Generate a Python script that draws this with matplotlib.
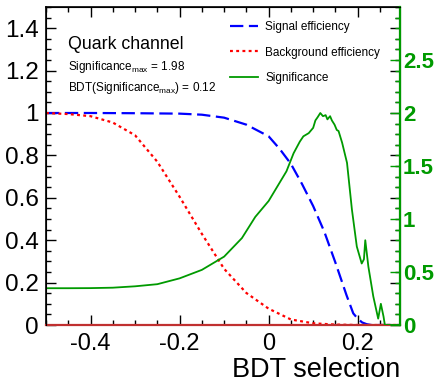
import matplotlib
matplotlib.use("Agg")
import matplotlib.pyplot as plt
from matplotlib.ticker import MultipleLocator, FixedLocator, FormatStrFormatter

plt.rcParams['font.family'] = ['Liberation Sans', 'DejaVu Sans']
plt.rcParams['axes.unicode_minus'] = False

# signal efficiency (blue dashed)
sig_x = [-0.5, -0.4, -0.3, -0.2, -0.15, -0.1, -0.05, 0.0, 0.025, 0.05, 0.075, 0.1,
         0.125, 0.15, 0.175, 0.19, 0.2, 0.21, 0.22, 0.23, 0.3]
sig_eff = [1.0, 1.0, 0.999, 0.997, 0.992, 0.978, 0.945, 0.89, 0.83, 0.76, 0.665, 0.561,
           0.44, 0.294, 0.14, 0.055, 0.03, 0.012, 0.004, 0.0, 0.0]

# background efficiency (red dotted)
bkg_x = [-0.5, -0.45, -0.4, -0.35, -0.3, -0.25, -0.2, -0.15, -0.1, -0.05, 0.0,
         0.05, 0.1, 0.15, 0.2, 0.3]
bkg_eff = [1.0, 0.995, 0.985, 0.955, 0.895, 0.77, 0.605, 0.43, 0.265, 0.151, 0.077,
           0.026, 0.008, 0.002, 0.0, 0.0]

# significance (green, right axis)
sgf_x = [-0.5, -0.45, -0.4, -0.35, -0.3, -0.25, -0.2, -0.15, -0.1, -0.06, -0.03, 0.0,
         0.02, 0.04, 0.056, 0.07, 0.078, 0.09, 0.1, 0.105, 0.11, 0.116, 0.122, 0.128,
         0.132, 0.138, 0.142, 0.148, 0.153, 0.157, 0.165, 0.176, 0.187, 0.198, 0.209,
         0.214, 0.217, 0.224, 0.235, 0.246, 0.252, 0.258, 0.261, 0.3]
sgf = [0.347, 0.347, 0.348, 0.352, 0.365, 0.385, 0.44, 0.52, 0.645, 0.82, 1.02, 1.17,
       1.31, 1.45, 1.62, 1.73, 1.78, 1.81, 1.86, 1.93, 1.96, 2.0, 1.97, 1.98,
       1.94, 1.97, 1.93, 1.89, 1.84, 1.83, 1.72, 1.53, 1.09, 0.74, 0.58,
       0.62, 0.80, 0.55, 0.27, 0.06, 0.20, 0.08, 0.0, 0.0]
sgf_ticks = [0, 0.5, 1, 1.5, 2, 2.5]

green = '#009a00'

fig = plt.figure(figsize=(4.36, 3.86), dpi=100)
ax = fig.add_axes([46/436, 1-325/386, 354/436, 318/386])
ax2 = ax.twinx()

l1, = ax.plot(sig_x, sig_eff, color='#0000ff', lw=1.6, linestyle=(0, (6, 2.5)),
              label='Signal efficiency')
l2, = ax.plot(bkg_x, bkg_eff, color='#ff0000', lw=1.6, linestyle=(0, (1.3, 1.5)),
              label='Background efficiency')
l3, = ax2.plot(sgf_x, sgf, color=green, lw=1.3, label='Significance')

ax.set_xlim(-0.5, 0.295)
ax.set_ylim(0, 1.5)
ax2.set_ylim(0, 3.0)

ax.xaxis.set_major_locator(MultipleLocator(0.2))
ax.xaxis.set_minor_locator(MultipleLocator(0.05))
ax.yaxis.set_major_locator(MultipleLocator(0.2))
ax.yaxis.set_minor_locator(MultipleLocator(0.05))
ax.xaxis.set_major_formatter(FormatStrFormatter('%g'))
ax.yaxis.set_major_formatter(FormatStrFormatter('%g'))
ax2.yaxis.set_major_locator(FixedLocator(sgf_ticks))
ax2.yaxis.set_minor_locator(MultipleLocator(0.1))
ax2.yaxis.set_major_formatter(FormatStrFormatter('%g'))

ax.tick_params(which='both', direction='in', top=True, right=True, colors='black')
ax.tick_params(which='major', length=7, width=1)
ax.tick_params(which='minor', length=3.5, width=1)
ax.tick_params(axis='y', labelsize=17.5, pad=5)
ax.tick_params(axis='x', labelsize=17, pad=6)

ax2.tick_params(which='both', direction='in', colors=green)
ax2.tick_params(which='major', length=7, width=1)
ax2.tick_params(which='minor', length=3.5, width=1)
ax2.tick_params(axis='y', labelsize=16, pad=2)
for lab in ax2.get_yticklabels():
    lab.set_fontweight('bold')

for sp in ['left', 'top']:
    ax.spines[sp].set_linewidth(1.2)
ax.spines['bottom'].set_color('#c03030')
ax.spines['bottom'].set_linewidth(1.6)
ax2.spines['right'].set_color(green)
ax2.spines['right'].set_linewidth(1.6)
ax2.spines['bottom'].set_visible(False)

ax.set_xlabel('BDT selection', fontsize=19.5, loc='right', labelpad=1)

tx = (68 - 46) / 354
ax.text(tx, 1 - (49-7)/318, 'Quark channel', transform=ax.transAxes,
        fontsize=12.8, ha='left', va='baseline')
ax.text(tx, 1 - (70-7)/318, r'Significance$_{\mathregular{max}}$ = 1.98',
        transform=ax.transAxes, fontsize=8.5, ha='left', va='baseline')
ax.text(tx, 1 - (91-7)/318, r'BDT(Significance$_{\mathregular{max}}$) = 0.12',
        transform=ax.transAxes, fontsize=8.5, ha='left', va='baseline')

ax.legend(handles=[l1, l2, l3], loc='upper left', frameon=False, fontsize=8.5,
          bbox_to_anchor=(230/436, 1-21/386), bbox_transform=fig.transFigure,
          borderpad=0, borderaxespad=0, handlelength=2.4, handletextpad=0.6,
          labelspacing=1.15)

fig.savefig('out.png', dpi=100)
